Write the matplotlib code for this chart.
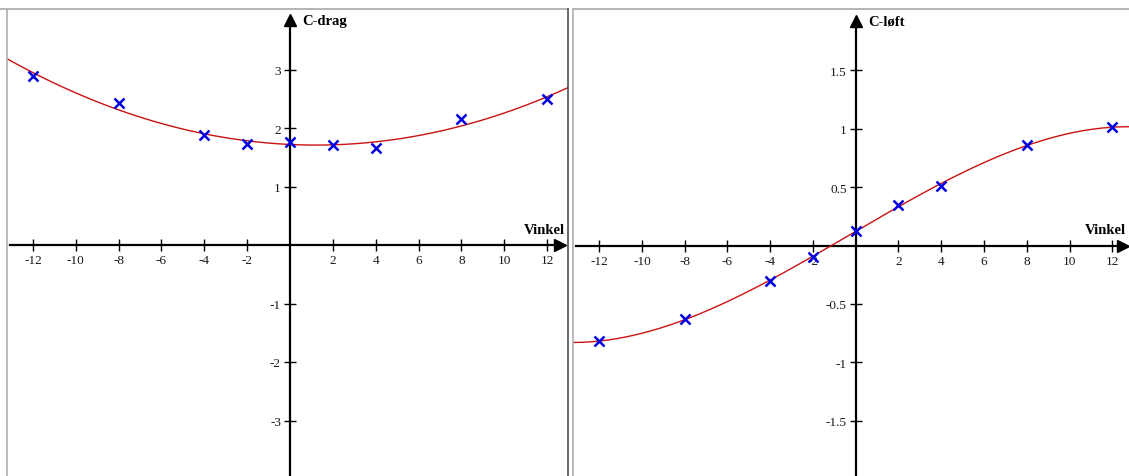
import numpy as np
import matplotlib
matplotlib.use('Agg')
import matplotlib.pyplot as plt
from matplotlib.lines import Line2D

# measured angles (degrees) and coefficients
vinkel = [-12, -8, -4, -2, 0, 2, 4, 8, 12]
c_drag = [2.89, 2.43, 1.885, 1.72, 1.755, 1.71, 1.66, 2.15, 2.50]
c_loft = [-0.819, -0.634, -0.30, -0.097, 0.127, 0.35, 0.511, 0.862, 1.013]

drag_ticks_x = [-12, -10, -8, -6, -4, -2, 2, 4, 6, 8, 10, 12]
drag_ticks_y = [-3, -2, -1, 1, 2, 3]
loft_ticks_y = [-1.5, -1, -0.5, 0.5, 1, 1.5]

W, H = 1129, 477
fig = plt.figure(figsize=(W / 100, H / 100), dpi=100)
fig.patch.set_facecolor('white')

serif = 'Liberation Serif'


def px_box(x0, x1, y0, y1):
    # pixel box (top-left origin) -> figure fraction rect
    return [x0 / W, 1 - y1 / H, (x1 - x0) / W, (y1 - y0) / H]


def setup_axes(ax, xlim, ylim, yticks, ylabels, xarrow, yarrow):
    ax.set_xlim(*xlim)
    ax.set_ylim(*ylim)
    ax.set_facecolor('none')
    for s in ['top', 'right']:
        ax.spines[s].set_visible(False)
    ax.spines['left'].set_position(('data', 0))
    ax.spines['bottom'].set_position(('data', 0))
    for s in ['left', 'bottom']:
        ax.spines[s].set_linewidth(1.6)
        ax.spines[s].set_color('black')
    ax.spines['left'].set_bounds(ylim[0], yarrow)
    ax.spines['bottom'].set_bounds(xlim[0] + 0.15, xarrow)
    ax.plot(0, yarrow, marker='^', ms=8, color='black', clip_on=False, zorder=5)
    ax.plot(xarrow, 0, marker='>', ms=8, color='black', clip_on=False, zorder=5)

    ax.set_xticks(drag_ticks_x)
    ax.set_xticklabels([str(t) for t in drag_ticks_x])
    ax.set_yticks(yticks)
    ax.set_yticklabels(ylabels)
    ax.tick_params(direction='inout', length=9, width=1.0, color='black',
                   labelsize=9.5, pad=2, labelcolor='#1a1a1a')
    for lab in ax.get_xticklabels() + ax.get_yticklabels():
        lab.set_fontfamily(serif)


# ---------- C-drag ----------
ax1 = fig.add_axes(px_box(7, 568, 10, 477))
xl1 = ((7 - 290) / 21.42, (568 - 290) / 21.42)
yl1 = (-(477 - 246) / 58.5, (246 - 10) / 58.5)
setup_axes(ax1, xl1, yl1, drag_ticks_y, [str(t) for t in drag_ticks_y],
           xarrow=12.62, yarrow=3.85)

p2 = np.polyfit(vinkel, c_drag, 2)
xs = np.linspace(xl1[0], xl1[1], 300)
ax1.plot(xs, np.polyval(p2, xs), color='#cc1111', lw=1.0, zorder=3)
ax1.plot(vinkel, c_drag, 'x', color='#0000e0', ms=7, mew=1.8, zorder=4)

ax1.text(0.56, 3.83, 'C-drag', fontfamily=serif, fontweight='bold',
         fontsize=10.5, ha='left', va='center')
ax1.text(12.85, 0.27, 'Vinkel', fontfamily=serif, fontweight='bold',
         fontsize=10.5, ha='right', va='center')

# ---------- C-løft ----------
ax2 = fig.add_axes(px_box(573, 1129, 10, 477))
xl2 = ((573 - 855.7) / 21.38, (1129 - 855.7) / 21.38)
yl2 = (-(477 - 246.5) / 116.7, (246.5 - 10) / 116.7)
setup_axes(ax2, xl2, yl2, loft_ticks_y, ['-1.5', '-1', '-0.5', '0.5', '1', '1.5'],
           xarrow=12.5, yarrow=1.92)

p3 = np.polyfit(vinkel, c_loft, 3)
xs2 = np.linspace(xl2[0], xl2[1], 300)
ax2.plot(xs2, np.polyval(p3, xs2), color='#cc1111', lw=1.0, zorder=3)
ax2.plot(vinkel, c_loft, 'x', color='#0000e0', ms=7, mew=1.8, zorder=4)

ax2.text(0.57, 1.92, 'C-løft', fontfamily=serif, fontweight='bold',
         fontsize=10.5, ha='left', va='center')
ax2.text(10.72, 0.14, 'Vinkel', fontfamily=serif, fontweight='bold',
         fontsize=10.5, ha='left', va='center', clip_on=False)

# panel frames
top = 1 - 10 / H
frame = [
    ((0, 568 / W), (top, top), '#a8a8a8'),
    ((573 / W, 1), (top, top), '#a8a8a8'),
    ((7 / W, 7 / W), (0, top), '#b0b0b0'),
    ((568 / W, 568 / W), (0, top), '#4a5058'),
    ((573 / W, 573 / W), (0, top), '#b0b0b0'),
]
for xx, yy, c in frame:
    fig.add_artist(Line2D(xx, yy, transform=fig.transFigure, color=c, lw=1.2))

fig.savefig('out.png', dpi=100, facecolor='white')
